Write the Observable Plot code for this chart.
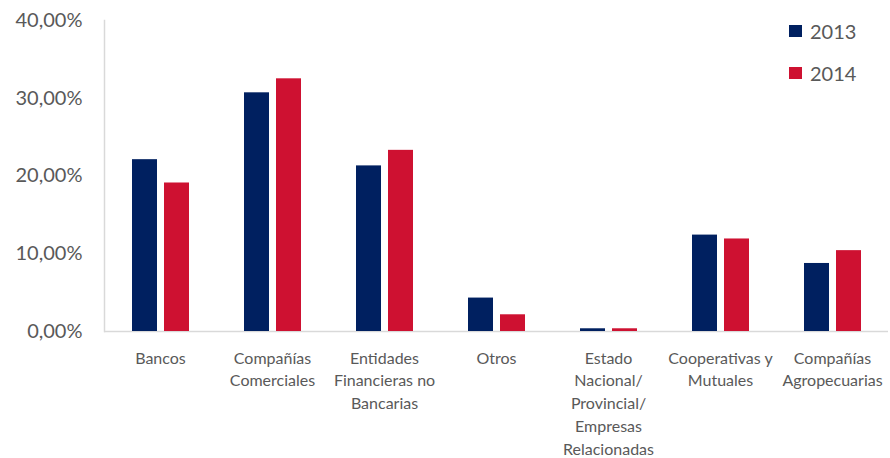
<!DOCTYPE html>
<html><head><meta charset="utf-8">
<script src="https://cdn.jsdelivr.net/npm/d3@7"></script>
<script src="https://cdn.jsdelivr.net/npm/@observablehq/plot@0.6"></script>
<style>
body{margin:0;background:#fff;}
#wrap{position:relative;width:890px;height:458px;font-family:Lato,sans-serif;}
.leg{position:absolute;left:789px;color:#595959;font-size:20px;line-height:20px;display:flex;align-items:center;}
.leg span.sw{display:inline-block;width:13px;height:12px;margin-right:8px;}
</style></head>
<body><div id="wrap"></div>
<script>
const categories = ["Bancos","Compañías Comerciales","Entidades Financieras no Bancarias","Otros","Estado Nacional/Provincial/Empresas Relacionadas","Cooperativas y Mutuales","Compañías Agropecuarias"];
const tickLabels = ["Bancos","Compañías\nComerciales","Entidades\nFinancieras no\nBancarias","Otros","Estado\nNacional/\nProvincial/\nEmpresas\nRelacionadas","Cooperativas y\nMutuales","Compañías\nAgropecuarias"];
const years = ["2013","2014"];
const values2013 = [22.1, 30.7, 21.3, 4.3, 0.35, 12.4, 8.75];
const values2014 = [19.1, 32.5, 23.3, 2.15, 0.35, 11.9, 10.4];
const colors = ["#002060","#CE1131"];
const yTicks = [0,10,20,30,40];

const data = categories.flatMap((c,i)=>[
  {cat:c, year:years[0], value:values2013[i]},
  {cat:c, year:years[1], value:values2014[i]}
]);

const chart = Plot.plot({
  width:890, height:458,
  marginLeft:104, marginRight:2, marginTop:20, marginBottom:127,
  style:{fontFamily:"Lato, sans-serif", color:"#595959", background:"#fff"},
  fx:{domain:categories, padding:0, axis:null},
  x:{domain:years, paddingInner:0.23, paddingOuter:0.84, axis:null},
  y:{domain:[0,40], axis:null},
  color:{domain:years, range:colors},
  marks:[
    Plot.frame({anchor:"left", stroke:"#d9d9d9", strokeWidth:1.5, fx: () => categories[0]}),
    Plot.ruleY([0], {stroke:"#d9d9d9", strokeWidth:1.5}),
    Plot.barY(data, {fx:"cat", x:"year", y:"value", fill:"year"}),
    Plot.axisY(yTicks, {tickSize:0, tickPadding:22, fontSize:20, fill:"#595959",
      tickFormat: d => d.toFixed(2).replace(".", ",") + "%", label:null}),
    Plot.axisFx({anchor:"bottom", tickSize:0, tickPadding:16, fontSize:16, lineHeight:1.42, fill:"#595959",
      tickFormat: d => tickLabels[categories.indexOf(d)], label:null})
  ]
});
const wrap = document.getElementById("wrap");
wrap.appendChild(chart);
years.forEach((y,i)=>{
  const d = document.createElement("div");
  d.className = "leg";
  d.style.top = (21 + i*42) + "px";
  d.innerHTML = `<span class="sw" style="background:${colors[i]}"></span>${y}`;
  wrap.appendChild(d);
});
</script>
</body></html>
